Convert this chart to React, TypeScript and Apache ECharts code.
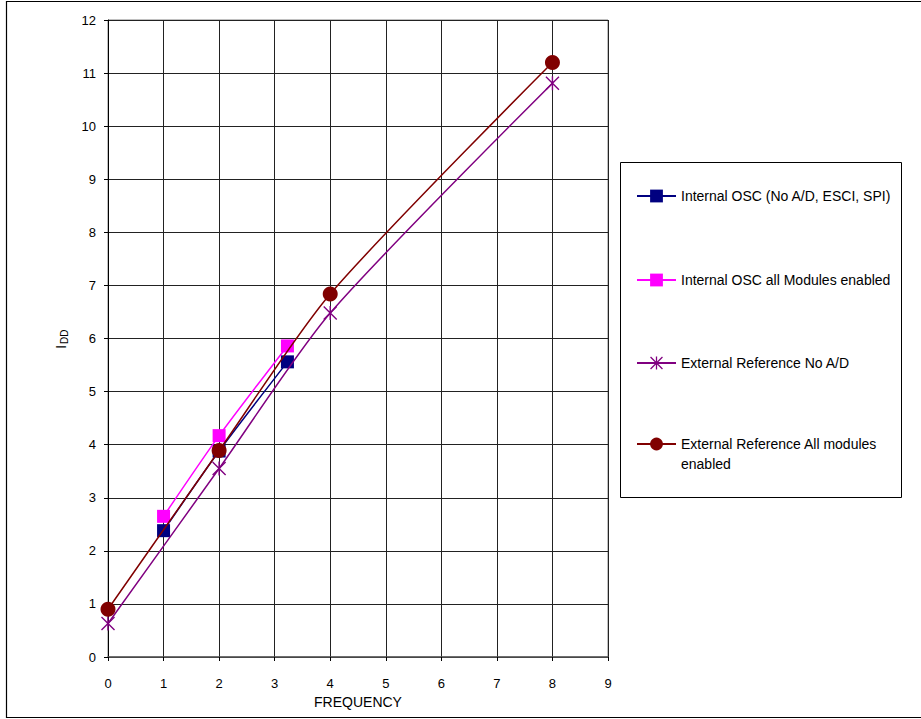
import React, { useEffect, useRef } from 'react';
import * as echarts from 'echarts';

const FONT = '"Liberation Sans", Arial, sans-serif';

const seriesNames = [
  'Internal OSC (No A/D, ESCI, SPI)',
  'Internal OSC all Modules enabled',
  'External Reference No A/D',
  'External Reference All modules enabled',
];
const seriesColors = ['#000080', '#FF00FF', '#800080', '#800000'];

const oscNoAdX = [1, 2, 3.23];
const oscNoAdY = [2.38, 3.88, 5.56];
const oscAllX = [1, 2, 3.23];
const oscAllY = [2.65, 4.17, 5.86];
const extNoAdX = [0, 2, 4, 8];
const extNoAdY = [0.63, 3.55, 6.48, 10.81];
const extAllX = [0, 2, 4, 8];
const extAllY = [0.9, 3.89, 6.84, 11.2];

const xMin = 0, xMax = 9, yMin = 0, yMax = 12;

const ASTERISK =
  'path://M9 0H11V20H9Z M0 1.4L1.4 0L20 18.6L18.6 20Z M18.6 0L20 1.4L1.4 20L0 18.6Z';

const zip = (xs: number[], ys: number[]) => xs.map((x, i) => [x, ys[i]]);

export default function App() {
  const ref = useRef<HTMLDivElement>(null);
  useEffect(() => {
    const chart = echarts.init(ref.current!, null, { renderer: 'svg' });
    const mk = (i: number, data: number[][], symbol: string, size: number) => ({
      name: seriesNames[i],
      type: 'line',
      data,
      smooth: 0.25,
      symbol,
      symbolSize: size,
      showSymbol: true,
      color: seriesColors[i],
      lineStyle: { color: seriesColors[i], width: 1.5 },
      itemStyle: { color: seriesColors[i] },
      z: 3 + i,
    });
    const legendTops = [186, 270, 353, 414];
    const option: any = {
      animation: false,
      backgroundColor: '#fff',
      textStyle: { fontFamily: FONT },
      grid: {
        left: 108,
        top: 20,
        right: 313,
        bottom: 62,
        show: true,
        borderColor: '#808080',
        borderWidth: 1,
      },
      xAxis: {
        type: 'value',
        min: xMin,
        max: xMax,
        interval: 1,
        name: 'FREQUENCY',
        nameLocation: 'middle',
        nameGap: 37,
        nameTextStyle: { fontFamily: FONT, fontSize: 14, color: '#000' },
        axisLine: { show: true, lineStyle: { color: '#555', width: 1.5 } },
        axisTick: { show: true, length: 4, lineStyle: { color: '#000' } },
        axisLabel: { fontFamily: FONT, fontSize: 13, color: '#000', margin: 20 },
        splitLine: { show: true, lineStyle: { color: '#222', width: 1 } },
      },
      yAxis: {
        type: 'value',
        min: yMin,
        max: yMax,
        interval: 1,
        axisLine: { show: true, lineStyle: { color: '#000', width: 1 } },
        axisTick: { show: true, length: 4, lineStyle: { color: '#000' } },
        axisLabel: { fontFamily: FONT, fontSize: 13, color: '#000', margin: 12 },
        splitLine: { show: true, lineStyle: { color: '#222', width: 1 } },
      },
      legend: seriesNames.map((n, i) => ({
        data: [n],
        left: 636,
        top: legendTops[i],
        padding: 0,
        itemWidth: 39,
        itemHeight: 16,
        itemGap: 0,
        selectedMode: false,
        formatter: (name: string) =>
          name === seriesNames[3] ? ' \nExternal Reference All modules\nenabled' : name,
        textStyle: { fontFamily: FONT, fontSize: 14, color: '#000', lineHeight: 20 },
      })),
      graphic: [
        {
          type: 'rect',
          shape: { x: 620.5, y: 162.5, width: 281, height: 335 },
          style: { fill: 'none', stroke: '#000', lineWidth: 1 },
          silent: true,
        },
        {
          type: 'rect',
          shape: { x: 6.5, y: 1.5, width: 940, height: 716 },
          style: { fill: 'none', stroke: '#000', lineWidth: 1.2 },
          silent: true,
        },
        {
          type: 'group',
          x: 60,
          y: 349,
          rotation: Math.PI / 2,
          children: [
            {
              type: 'text',
              x: 0,
              y: 0,
              style: {
                text: 'I',
                font: '15px ' + FONT,
                fill: '#000',
                align: 'left',
                verticalAlign: 'middle',
              },
            },
            {
              type: 'text',
              x: 5,
              y: 4,
              style: {
                text: 'DD',
                font: '10px ' + FONT,
                fill: '#000',
                align: 'left',
                verticalAlign: 'middle',
              },
            },
          ],
        },
      ],
      series: [
        mk(0, zip(oscNoAdX, oscNoAdY), 'rect', 13),
        mk(1, zip(oscAllX, oscAllY), 'rect', 13),
        mk(2, zip(extNoAdX, extNoAdY), ASTERISK, 14),
        mk(3, zip(extAllX, extAllY), 'circle', 15),
      ],
    };
    chart.setOption(option);
    return () => chart.dispose();
  }, []);
  return (
    <div
      ref={ref}
      style={{ position: 'fixed', left: 0, top: 0, width: 921, height: 719, background: '#fff' }}
    />
  );
}
